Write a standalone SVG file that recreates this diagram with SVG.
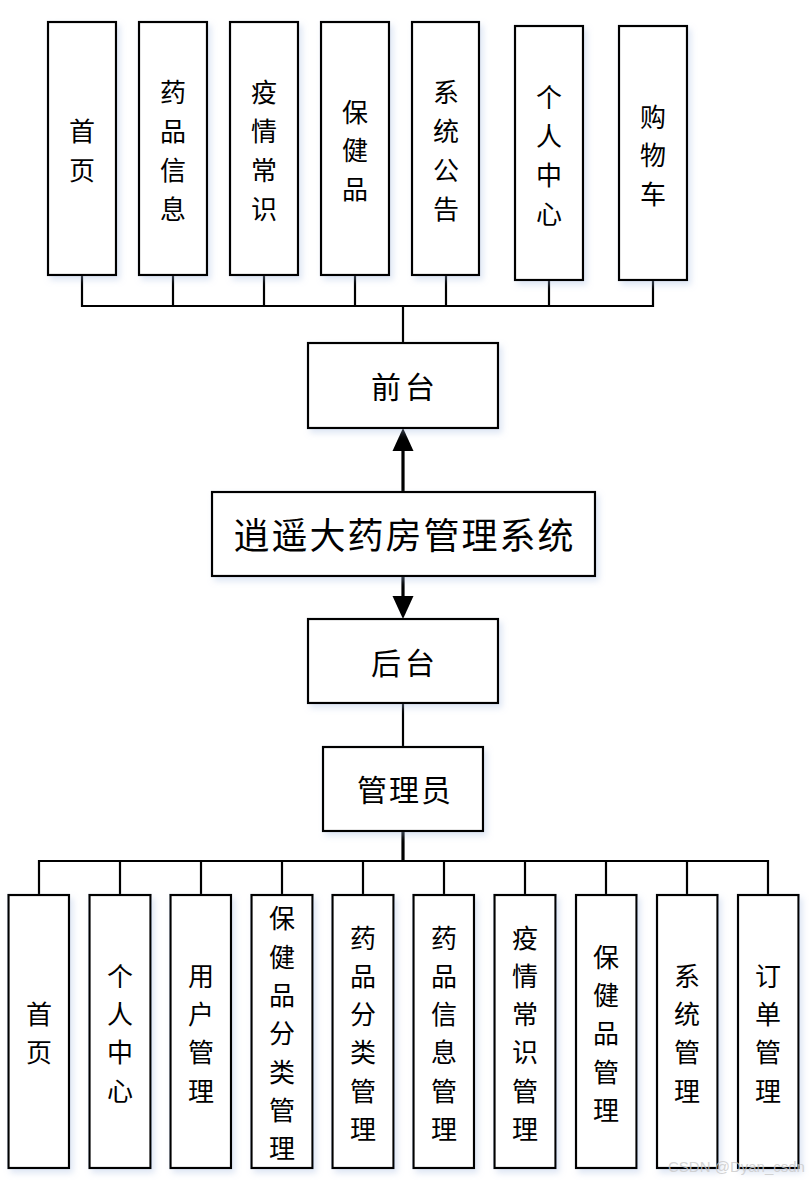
<svg xmlns="http://www.w3.org/2000/svg" width="809" height="1183" viewBox="0 0 809 1183">
<style>
.box{fill:#ffffff;stroke:#000000;stroke-width:2.2;filter:url(#sh)}
.ln{fill:none;stroke:#000000;stroke-width:2.2}
.ar{fill:none;stroke:#000000;stroke-width:3.2}
.t{font-family:"Noto Sans CJK SC","Noto Sans CJK JP",sans-serif;fill:#000000;text-anchor:middle;dominant-baseline:central}
.v{font-size:26px}
.m{font-size:36px;letter-spacing:2px}
.s{font-size:30px;letter-spacing:4px}
.wm{font-family:"Liberation Sans",Arial,sans-serif;font-size:15px;fill:#c8c8c8;fill-opacity:0.8}
</style>
<defs>
<filter id="sh" x="-20%" y="-20%" width="140%" height="140%">
<feDropShadow dx="3" dy="4" stdDeviation="3" flood-color="#9fb7e0" flood-opacity="0.35"/>
</filter>
<marker id="ah" viewBox="0 0 10 10" refX="10" refY="5" markerWidth="7" markerHeight="7" markerUnits="userSpaceOnUse" orient="auto">
<path d="M0,0 L10,5 L0,10 Z" fill="#000"/>
</marker>
</defs>

<g id="connectors">
<polyline class="ln" points="82,275 82,306 653,306 653,280"/>
<line class="ln" x1="173" y1="275" x2="173" y2="306"/>
<line class="ln" x1="264" y1="275" x2="264" y2="306"/>
<line class="ln" x1="355" y1="275" x2="355" y2="306"/>
<line class="ln" x1="446" y1="275" x2="446" y2="306"/>
<line class="ln" x1="549" y1="280" x2="549" y2="306"/>
<line class="ln" x1="403" y1="306" x2="403" y2="343"/>
<line class="ar" x1="403" y1="492" x2="403" y2="449"/>
<path d="M392.5,451 L403,428 L413.5,451 Z" fill="#000"/>
<line class="ar" x1="403" y1="576" x2="403" y2="598"/>
<path d="M392.5,596 L403,619 L413.5,596 Z" fill="#000"/>
<line class="ln" x1="403" y1="703" x2="403" y2="747"/>
<line class="ar" x1="403" y1="831" x2="403" y2="861"/>
<polyline class="ln" points="39,895 39,861 768,861 768,895"/>
<line class="ln" x1="120" y1="861" x2="120" y2="895"/>
<line class="ln" x1="201" y1="861" x2="201" y2="895"/>
<line class="ln" x1="282" y1="861" x2="282" y2="895"/>
<line class="ln" x1="363" y1="861" x2="363" y2="895"/>
<line class="ln" x1="444" y1="861" x2="444" y2="895"/>
<line class="ln" x1="525" y1="861" x2="525" y2="895"/>
<line class="ln" x1="606" y1="861" x2="606" y2="895"/>
<line class="ln" x1="687" y1="861" x2="687" y2="895"/>
</g>

<g id="top1"><rect class="box" x="48" y="22" width="68" height="253"/>
<text class="t v" x="82" y="129">首</text><text class="t v" x="82" y="168">页</text></g>
<g id="top2"><rect class="box" x="139" y="22" width="68" height="253"/>
<text class="t v" x="173" y="90">药</text><text class="t v" x="173" y="129">品</text><text class="t v" x="173" y="168">信</text><text class="t v" x="173" y="207">息</text></g>
<g id="top3"><rect class="box" x="230" y="22" width="68" height="253"/>
<text class="t v" x="264" y="90">疫</text><text class="t v" x="264" y="129">情</text><text class="t v" x="264" y="168">常</text><text class="t v" x="264" y="207">识</text></g>
<g id="top4"><rect class="box" x="321" y="22" width="68" height="253"/>
<text class="t v" x="355" y="110">保</text><text class="t v" x="355" y="148.5">健</text><text class="t v" x="355" y="187">品</text></g>
<g id="top5"><rect class="box" x="412" y="22" width="67" height="253"/>
<text class="t v" x="446" y="90">系</text><text class="t v" x="446" y="129">统</text><text class="t v" x="446" y="168">公</text><text class="t v" x="446" y="207">告</text></g>
<g id="top6"><rect class="box" x="515" y="26" width="68" height="254"/>
<text class="t v" x="549" y="95">个</text><text class="t v" x="549" y="134">人</text><text class="t v" x="549" y="173">中</text><text class="t v" x="549" y="212">心</text></g>
<g id="top7"><rect class="box" x="619" y="26" width="68" height="254"/>
<text class="t v" x="653" y="115">购</text><text class="t v" x="653" y="153.5">物</text><text class="t v" x="653" y="192">车</text></g>

<g id="qiantai"><rect class="box" x="308" y="343" width="190" height="85"/>
<text class="t s" x="405" y="385">前台</text></g>
<g id="system"><rect class="box" x="212" y="492" width="383" height="84"/>
<text class="t m" x="404.5" y="533">逍遥大药房管理系统</text></g>
<g id="houtai"><rect class="box" x="308" y="619" width="190" height="84"/>
<text class="t s" x="405" y="661">后台</text></g>
<g id="admin"><rect class="box" x="323" y="747" width="160" height="84"/>
<text class="t s" x="405" y="788" style="letter-spacing:2px">管理员</text></g>

<g id="b1"><rect class="box" x="8.5" y="895" width="60.5" height="273"/>
<text class="t v" x="39" y="1012.5">首</text><text class="t v" x="39" y="1050.5">页</text></g>
<g id="b2"><rect class="box" x="89.5" y="895" width="61" height="273"/>
<text class="t v" x="120" y="974">个</text><text class="t v" x="120" y="1012.5">人</text><text class="t v" x="120" y="1050.5">中</text><text class="t v" x="120" y="1089">心</text></g>
<g id="b3"><rect class="box" x="170.5" y="895" width="60.5" height="273"/>
<text class="t v" x="201" y="974">用</text><text class="t v" x="201" y="1012.5">户</text><text class="t v" x="201" y="1050.5">管</text><text class="t v" x="201" y="1089">理</text></g>
<g id="b4"><rect class="box" x="251.5" y="895" width="61" height="273"/>
<text class="t v" x="282" y="916.5">保</text><text class="t v" x="282" y="955">健</text><text class="t v" x="282" y="993">品</text><text class="t v" x="282" y="1031.5">分</text><text class="t v" x="282" y="1070">类</text><text class="t v" x="282" y="1108">管</text><text class="t v" x="282" y="1146.5">理</text></g>
<g id="b5"><rect class="box" x="332.5" y="895" width="61" height="273"/>
<text class="t v" x="363" y="936">药</text><text class="t v" x="363" y="974">品</text><text class="t v" x="363" y="1012.5">分</text><text class="t v" x="363" y="1050.5">类</text><text class="t v" x="363" y="1089">管</text><text class="t v" x="363" y="1127">理</text></g>
<g id="b6"><rect class="box" x="413.5" y="895" width="60.5" height="273"/>
<text class="t v" x="444" y="936">药</text><text class="t v" x="444" y="974">品</text><text class="t v" x="444" y="1012.5">信</text><text class="t v" x="444" y="1050.5">息</text><text class="t v" x="444" y="1089">管</text><text class="t v" x="444" y="1127">理</text></g>
<g id="b7"><rect class="box" x="494.5" y="895" width="61" height="273"/>
<text class="t v" x="525" y="936">疫</text><text class="t v" x="525" y="974">情</text><text class="t v" x="525" y="1012.5">常</text><text class="t v" x="525" y="1050.5">识</text><text class="t v" x="525" y="1089">管</text><text class="t v" x="525" y="1127">理</text></g>
<g id="b8"><rect class="box" x="576" y="895" width="60.5" height="273"/>
<text class="t v" x="606" y="955">保</text><text class="t v" x="606" y="993">健</text><text class="t v" x="606" y="1031.5">品</text><text class="t v" x="606" y="1070">管</text><text class="t v" x="606" y="1108">理</text></g>
<g id="b9"><rect class="box" x="657" y="895" width="60.5" height="273"/>
<text class="t v" x="687" y="974">系</text><text class="t v" x="687" y="1012.5">统</text><text class="t v" x="687" y="1050.5">管</text><text class="t v" x="687" y="1089">理</text></g>
<g id="b10"><rect class="box" x="738" y="895" width="60.5" height="273"/>
<text class="t v" x="768" y="974">订</text><text class="t v" x="768" y="1012.5">单</text><text class="t v" x="768" y="1050.5">管</text><text class="t v" x="768" y="1089">理</text></g>

<text class="wm" x="668" y="1172">CSDN @Dyan_csdn</text>
</svg>
